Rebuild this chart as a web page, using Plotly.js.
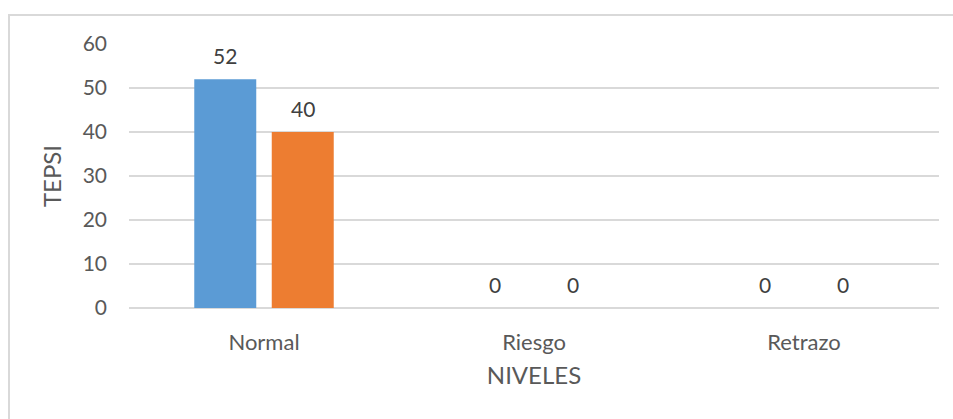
<!DOCTYPE html>
<html><head><meta charset="utf-8">
<script src="https://cdn.plot.ly/plotly-3.0.1.min.js"></script>
<style>
body{margin:0;background:#fff;}
#frame{position:absolute;left:8px;top:14px;width:1000px;height:500px;border:2px solid #d9d9d9;box-sizing:border-box;}
#chart{position:absolute;left:0;top:0;width:953px;height:419px;}
</style></head>
<body>
<div id="frame"></div>
<div id="chart"></div>
<script>
const categories = ["Normal", "Riesgo", "Retrazo"];
const series1 = [52, 0, 0];
const series2 = [40, 0, 0];
const yTicks = [0, 10, 20, 30, 40, 50, 60];

const font = "Lato, 'Open Sans', sans-serif";
const txtColor = "#595959";
const traces = [
  {type:"bar", x:categories, y:series1, marker:{color:"#5B9BD5"}},
  {type:"bar", x:categories, y:series2, marker:{color:"#ED7D31"}}
];
const annotations = [];
[[series1, -38.75], [series2, 38.75]].forEach(([s, dx]) => {
  s.forEach((v, i) => annotations.push({
    x: categories[i], y: v, xref: "x", yref: "y", text: String(v), showarrow: false,
    xanchor: "center", yanchor: "middle", xshift: dx, yshift: 24,
    font: {family: font, size: 21, color: "#404040"}
  }));
});
const layout = {
  width:953, height:419,
  margin:{l:129, r:14, t:44, b:111},
  paper_bgcolor:"rgba(0,0,0,0)", plot_bgcolor:"rgba(0,0,0,0)",
  showlegend:false,
  barmode:"group", bargap:0.426, bargroupgap:0.2,
  font:{family:font, color:txtColor, size:20},
  annotations: annotations,
  xaxis:{showgrid:false, showline:false, zeroline:false, ticks:"", ticklabelstandoff:19,
    tickfont:{family:font,size:22,color:txtColor},
    title:{text:"NIVELES", font:{family:font,size:24,color:txtColor}, standoff:13}},
  yaxis:{range:[0,60], tickvals:yTicks, showgrid:true, gridcolor:"#d9d9d9", gridwidth:1.5,
    zeroline:true, zerolinecolor:"#d9d9d9", zerolinewidth:1.5, showline:false, ticks:"",
    ticklabelstandoff:21, tickfont:{family:font,size:21,color:txtColor},
    title:{text:"TEPSI", font:{family:font,size:24,color:txtColor}, standoff:14}}
};
Plotly.newPlot("chart", traces, layout, {displayModeBar:false, staticPlot:true});
</script>
</body></html>
